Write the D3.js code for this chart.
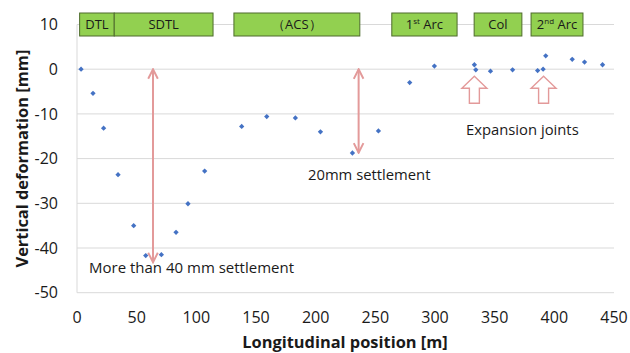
<!DOCTYPE html>
<html>
<head>
<meta charset="utf-8">
<script src="https://cdn.jsdelivr.net/npm/d3@7"></script>
<style>
body { margin: 0; background: #fff; }
text { font-family: "Open Sans", "Noto Sans", sans-serif; }
</style>
</head>
<body>
<div id="chart"></div>
<script>
var width = 630;
var height = 353;

// measured points: longitudinal position [m], vertical deformation [mm]
var positions = [3.4, 13.4, 22.3, 34.4, 47.5, 57.6, 70.7, 83, 93, 107,
  138, 159, 183, 204, 230.8, 252.6, 278.8, 299.5, 333, 334.2,
  346.5, 365, 386, 390.6, 392.8, 415, 425.3, 440.4];
var deformations = [0, -5.4, -13.2, -23.6, -35.0, -41.7, -41.5, -36.5, -30.1, -22.8,
  -12.8, -10.6, -10.9, -14.0, -18.75, -13.8, -3.0, 0.7, 1.0, -0.15,
  -0.45, -0.15, -0.3, 0, 3.0, 2.2, 1.6, 1.0];

var xTicks = [0, 50, 100, 150, 200, 250, 300, 350, 400, 450];
var yTicks = [10, 0, -10, -20, -30, -40, -50];

// structure segments along the route [m]
var segNames = ["DTL", "SDTL", "(ACS)", "1st Arc", "Col", "2nd Arc"];
var segStart = [2.2, 31.2, 131.5, 263.8, 332.8, 380.5];
var segEnd = [31.2, 114, 237, 318.5, 372.8, 424];

// annotations
var settleX = [63.7, 236];
var settleY = [-43.2, -18.7];
var jointX = [333, 391];

var margin = {left: 77, right: 16, top: 24.5, bottom: 60.3};

var svg = d3.select("#chart").append("svg")
  .attr("width", width)
  .attr("height", height);

var x = d3.scaleLinear().domain([0, 450]).range([margin.left, width - margin.right]);
var y = d3.scaleLinear().domain([-50, 10]).range([height - margin.bottom, margin.top]);

// grid
svg.append("g").selectAll("line").data(yTicks).enter().append("line")
  .attr("x1", x(0)).attr("x2", x(450))
  .attr("y1", d => y(d)).attr("y2", d => y(d))
  .attr("stroke", "#d9d9d9").attr("stroke-width", 1);
svg.append("line")
  .attr("x1", x(0)).attr("x2", x(0))
  .attr("y1", y(10)).attr("y2", y(-50))
  .attr("stroke", "#d9d9d9");

// tick labels
svg.append("g").selectAll("text").data(yTicks).enter().append("text")
  .attr("x", x(0) - 19).attr("y", d => y(d)).attr("dy", "0.35em")
  .attr("text-anchor", "end").attr("font-size", 16).attr("fill", "#1a1a1a")
  .text(d => d);
svg.append("g").selectAll("text").data(xTicks).enter().append("text")
  .attr("x", d => x(d)).attr("y", y(-50) + 30)
  .attr("text-anchor", "middle").attr("font-size", 16).attr("fill", "#1a1a1a")
  .text(d => d);

// axis titles
svg.append("text")
  .attr("x", 345).attr("y", 348)
  .attr("text-anchor", "middle").attr("font-size", 16.4).attr("font-weight", "bold")
  .attr("fill", "#1a1a1a")
  .text("Longitudinal position [m]");
svg.append("text")
  .attr("transform", "translate(28," + ((y(10) + y(-50)) / 2) + ") rotate(-90)")
  .attr("text-anchor", "middle").attr("font-size", 16.4).attr("font-weight", "bold")
  .attr("fill", "#1a1a1a")
  .text("Vertical deformation [mm]");

// segment boxes
var seg = svg.append("g").selectAll("g").data(segNames).enter().append("g");
seg.append("rect")
  .attr("x", (d, i) => x(segStart[i]))
  .attr("width", (d, i) => x(segEnd[i]) - x(segStart[i]))
  .attr("y", y(10) - 11.5).attr("height", 23)
  .attr("fill", "#92d050").attr("stroke", "#4e6b2c").attr("stroke-width", 1);
var segText = seg.append("text")
  .attr("x", (d, i) => (x(segStart[i]) + x(segEnd[i])) / 2)
  .attr("y", y(10)).attr("dy", "0.36em")
  .attr("text-anchor", "middle").attr("font-size", 13).attr("fill", "#1a1a1a");
segText.each(function(d) {
  var t = d3.select(this);
  var m = d.match(/^(\d)(st|nd)( .*)$/);
  if (m) {
    t.append("tspan").text(m[1]);
    t.append("tspan").attr("font-size", 8).attr("baseline-shift", "super").text(m[2]);
    t.append("tspan").text(m[3]);
  } else {
    t.text(d === "(ACS)" ? "\uff08ACS\uff09" : d);
  }
});

// settlement arrows
var pink = "#e39a9a";
svg.append("defs").append("marker")
  .attr("id", "head").attr("viewBox", "0 0 10 10")
  .attr("refX", 9).attr("refY", 5)
  .attr("markerWidth", 6).attr("markerHeight", 6)
  .attr("orient", "auto-start-reverse")
  .append("path").attr("d", "M1,1 L9,5 L1,9").attr("fill", "none")
  .attr("stroke", pink).attr("stroke-width", 1.6);
svg.append("g").selectAll("line").data(settleX).enter().append("line")
  .attr("x1", d => x(d)).attr("x2", d => x(d))
  .attr("y1", y(0)).attr("y2", (d, i) => y(settleY[i]))
  .attr("stroke", pink).attr("stroke-width", 2)
  .attr("marker-start", "url(#head)").attr("marker-end", "url(#head)");

// expansion joint hollow arrows
svg.append("g").selectAll("path").data(jointX).enter().append("path")
  .attr("transform", d => "translate(" + x(d) + "," + (y(0) + 7) + ")")
  .attr("d", "M0,0 L12.5,12 L5,12 L5,27 L-5,27 L-5,12 L-12.5,12 Z")
  .attr("fill", "#fff").attr("stroke", pink).attr("stroke-width", 1.4);

// annotation texts
svg.append("text").attr("x", 466).attr("y", 135).attr("font-size", 14.8).attr("fill", "#1a1a1a")
  .text("Expansion joints");
svg.append("text").attr("x", 308).attr("y", 180).attr("font-size", 14.8).attr("fill", "#1a1a1a")
  .text("20mm settlement");
svg.append("text").attr("x", 89).attr("y", 273).attr("font-size", 15).attr("fill", "#1a1a1a")
  .text("More than 40 mm settlement");

// points: small diamonds
svg.append("g").selectAll("path").data(positions).enter().append("path")
  .attr("d", d3.symbol().type(d3.symbolSquare).size(14))
  .attr("transform", (d, i) => "translate(" + x(d) + "," + y(deformations[i]) + ") rotate(45)")
  .attr("fill", "#4472c4");
</script>
</body>
</html>
